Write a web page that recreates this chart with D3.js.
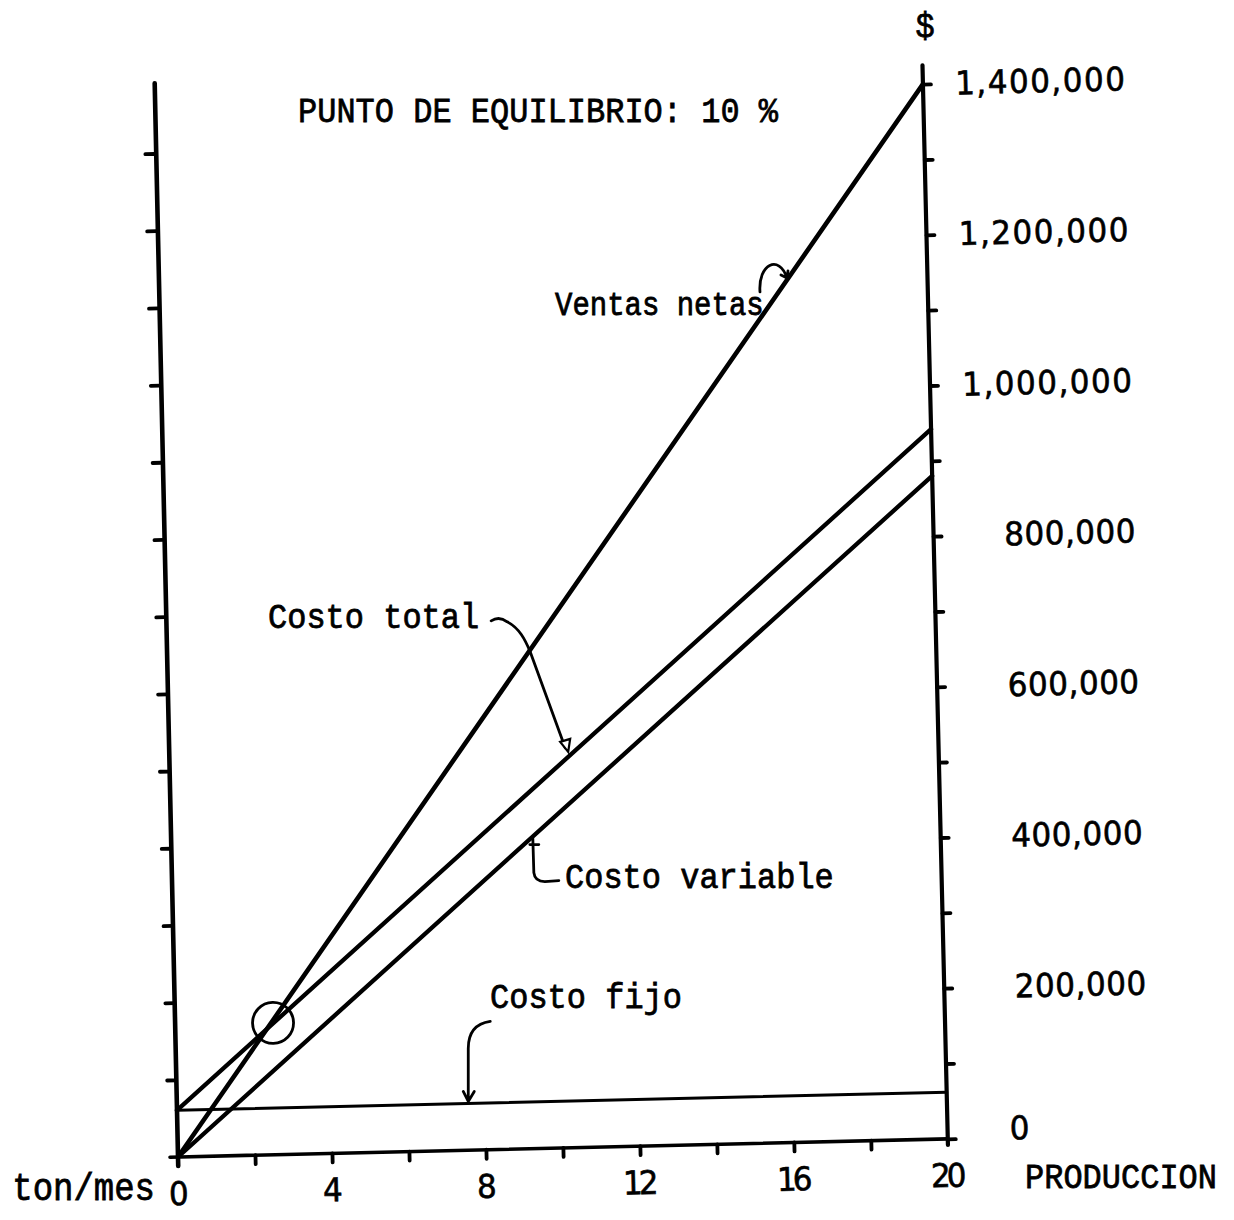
<!DOCTYPE html>
<html><head><meta charset="utf-8">
<script src="https://cdn.jsdelivr.net/npm/d3@7"></script>
<style>
html,body{margin:0;padding:0;background:#fff;}
svg{display:block;background:#fff;}
text{font-family:"Liberation Mono","Courier New",monospace;fill:#000;stroke:#000;stroke-width:0.7;}
text.num{font-family:"DejaVu Sans",sans-serif;stroke-width:0.6;}
</style></head><body>
<svg id="chart" width="1234" height="1220"></svg>
<script>
// ---------------- data ----------------
const produccion = [0, 20];                 // ton/mes
const ventasNetas = [0, 1400000];
const costoTotal = [62000, 942000];
const costoVariable = [0, 880000];
const costoFijo = [62000, 62000];
const puntoEquilibrio = [2.55, 175000];
const xTickValues = [2, 4, 6, 8, 10, 12, 14, 16, 18];
const xTickLabels = [0, 4, 8, 12, 16, 20];
const leftTickValues = [100000,200000,300000,400000,500000,600000,700000,800000,900000,1000000,1100000,1200000,1300000];
const rightTickValues = [0,100000,200000,300000,400000,500000,600000,700000,800000,900000,1000000,1100000,1200000,1300000,1400000];
const yTickLabels = [0, 200000, 400000, 600000, 800000, 1000000, 1200000, 1400000];
const titleText = "PUNTO DE EQUILIBRIO: 10 %";
const annotations = [
  {label: "Ventas netas", series: "ventas", at: 16.35},
  {label: "Costo total", series: "total", at: 10.35},
  {label: "Costo variable", series: "variable", at: 9.41},
  {label: "Costo fijo", series: "fijo", at: 7.57}
];

// ---------------- layout ----------------
const svg = d3.select("#chart");
const origin = [178, 1157];
const tilt = -1.35;              // scanned page is slightly rotated
const rad = -tilt * Math.PI / 180;
const x = d3.scaleLinear().domain([0, 20]).range([0, 770]);
const y = d3.scaleLinear().domain([0, 1400000]).range([0, -1055]);
const yLeft = d3.scaleLinear().domain([0, 1400000]).range([0, -1081]);
const fmt = d3.format(",");
const toScreen = (lx, ly) => [origin[0] + lx*Math.cos(rad) + ly*Math.sin(rad),
                              origin[1] - lx*Math.sin(rad) + ly*Math.cos(rad)];
const STRETCH = 1.12;
const ADV = 19.2;                // typewriter advance per character
function typed(sel, txt, px, py, size, anchor) {
  return sel.append("text")
    .attr("transform", `translate(${px},${py}) scale(1,${STRETCH})`)
    .attr("text-anchor", anchor || "start")
    .attr("font-size", size)
    .text(txt);
}
function typedNum(sel, txt, px, py, anchor) {
  return sel.append("text").attr("class","num")
    .attr("transform", `translate(${px},${py}) scale(1,1.05)`)
    .attr("text-anchor", anchor || "start")
    .attr("font-size", 31)
    .attr("textLength", txt.length > 1 ? txt.length * ADV - 3 : null)
    .attr("lengthAdjust", "spacing")
    .text(txt);
}

const g = svg.append("g").attr("transform", `translate(${origin[0]},${origin[1]}) rotate(${tilt})`);

// spines
const spine = (x1,y1,x2,y2,w) => g.append("line").attr("x1",x1).attr("y1",y1).attr("x2",x2).attr("y2",y2)
  .attr("stroke","#000").attr("stroke-width",w).attr("stroke-linecap","round");
spine(0, 9, 2, y(1425000), 4.6);
spine(x(20), 6, x(20), y(1425000), 4.2);
spine(-8, 0, x(20), 0, 3.6);

// ticks
const styleTicks = sel => { sel.select(".domain").remove();
  sel.selectAll(".tick line").attr("stroke","#000").attr("stroke-width",3.8).attr("stroke-linecap","round"); };
g.append("g").call(d3.axisLeft(yLeft).tickValues(leftTickValues).tickSize(9).tickFormat("")).call(styleTicks);
g.append("g").attr("transform",`translate(${x(20)},0)`)
  .call(d3.axisRight(y).tickValues(rightTickValues).tickSize(8).tickFormat("")).call(styleTicks);
g.append("g").call(d3.axisBottom(x).tickValues(xTickValues).tickSize(9).tickFormat("")).call(styleTicks);

// right tick labels
yTickLabels.forEach(v => {
  if (v === 0) typedNum(g, fmt(v), x(20) + 72, y(v) + 2, "middle");
  else typedNum(g, fmt(v), x(20) + 202, y(v) + 11, "end");
});
// bottom tick labels
xTickLabels.forEach(v => typedNum(g, fmt(v), x(v), 48, "middle"));

// series
const series = {
  ventas: {values: ventasNetas, w: 4.6},
  total: {values: costoTotal, w: 4.3},
  variable: {values: costoVariable, w: 4.3},
  fijo: {values: costoFijo, w: 3}
};
const line = d3.line().x((d,i) => x(produccion[i])).y(d => y(d));
Object.values(series).forEach(s => {
  g.append("path").attr("d", line(s.values)).attr("fill","none")
    .attr("stroke","#000").attr("stroke-width", s.w).attr("stroke-linecap","round");
});
// break-even circle
g.append("circle").attr("cx", x(puntoEquilibrio[0])).attr("cy", y(puntoEquilibrio[1]))
  .attr("r", 20.5).attr("fill","none").attr("stroke","#000").attr("stroke-width",2.8);

// ---------------- text ----------------
const layer = svg.append("g");
typed(layer, titleText, 298, 122, 32);
typed(layer, "$", 925, 37, 32, "middle");
typed(layer, "PRODUCCION", 1025, 1188, 32);
typed(layer, "ton/mes", 155, 1200, 34, "end");

// annotations
const valueAt = (key, t) => {
  const v = series[key].values;
  return v[0] + (v[1] - v[0]) * (t - produccion[0]) / (produccion[1] - produccion[0]);
};
const ann = {};
annotations.forEach(a => { ann[a.series] = toScreen(x(a.at), y(valueAt(a.series, a.at))); });
const pathStyle = p => p.attr("fill","none").attr("stroke","#000").attr("stroke-width",2.8)
  .attr("stroke-linecap","round").attr("stroke-linejoin","round");

// Ventas netas
typed(layer, "Ventas netas", 555, 315, 29);
{ const [tx,ty] = ann.ventas;
  layer.append("path").attr("transform",`translate(${tx},${ty-2})`)
    .attr("d","M-27,14 C-29,-14 -8,-24 0,0 M-6,-3 L0,0 L1,-7").call(pathStyle); }
// Costo total
typed(layer, "Costo total", 268, 628, 32);
{ const [tx,ty] = ann.total;
  layer.append("path").attr("transform",`translate(${tx},${ty-6})`)
    .attr("d","M-76,-131 Q-68,-136 -60,-130 C-48,-124 -42,-112 -37,-100 L-2,-4").call(pathStyle);
  layer.append("path").attr("transform",`translate(${tx},${ty-6})`)
    .attr("d","M-7,-10 L3,-13 L1,0 Z").attr("fill","#fff").attr("stroke","#000").attr("stroke-width",2.2); }
// Costo variable
typed(layer, "Costo variable", 565, 888, 32);
{ const [tx,ty] = ann.variable;
  layer.append("path").attr("transform",`translate(${tx},${ty})`)
    .attr("d","M0,2 L1,36 Q2,45 12,45 L26,44 M-3,8 L6,8").call(pathStyle); }
// Costo fijo
typed(layer, "Costo fijo", 490, 1008, 32);
{ const [tx,ty] = ann.fijo;
  layer.append("path").attr("transform",`translate(${tx},${ty})`)
    .attr("d","M22,-82 C8,-80 0,-72 0,-55 L0,-3 M-5,-12 L0,-2 L6,-12").call(pathStyle); }
</script>
</body></html>
